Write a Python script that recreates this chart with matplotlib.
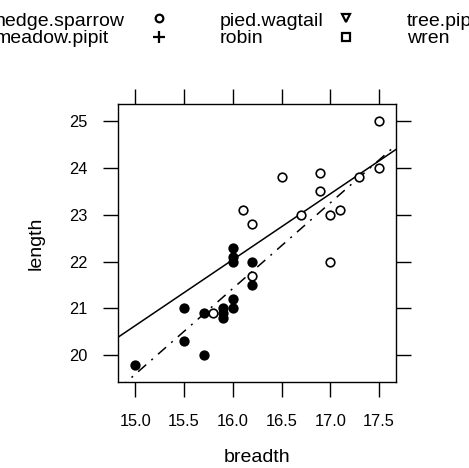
import numpy as np
from matplotlib import pyplot as plt
from matplotlib.lines import Line2D

plt.rcParams['font.family'] = ['Liberation Sans', 'DejaVu Sans']

# eggs of cuckoos laid in hedge sparrow and wren nests
hedge_breadth = [15.8, 16.2, 16.1, 16.2, 16.5, 16.7, 16.9, 16.9, 17.0, 17.0,
                 17.1, 17.3, 17.5, 17.5]
hedge_length = [20.9, 21.7, 23.1, 22.8, 23.8, 23.0, 23.9, 23.5, 23.0, 22.0,
                23.1, 23.8, 25.0, 24.0]
wren_breadth = [15.0, 15.5, 15.5, 15.7, 15.7, 15.9, 15.9, 15.9, 16.0, 16.0,
                16.0, 16.0, 16.0, 16.2, 16.2]
wren_length = [19.8, 21.0, 20.3, 20.9, 20.0, 21.0, 20.9, 20.8, 21.2, 21.0,
               22.3, 22.1, 22.0, 22.0, 21.5]

key_labels = [['hedge.sparrow', 'meadow.pipit'],
              ['pied.wagtail', 'robin'],
              ['tree.pipit', 'wren']]
key_markers = [['o', '+'], ['v', 's'], ['D', 'o']]

x_ticks = [15.0, 15.5, 16.0, 16.5, 17.0, 17.5]
y_ticks = [20, 21, 22, 23, 24, 25]

W, H = 469, 468
fig = plt.figure(figsize=(W / 100, H / 100), dpi=100)
ax = fig.add_axes([118.3 / W, 1 - 381.7 / H, (396 - 118.3) / W,
                   (381.7 - 104) / H])

all_x = np.array(hedge_breadth + wren_breadth)
all_y = np.array(hedge_length + wren_length)
xr = all_x.max() - all_x.min()
yr = all_y.max() - all_y.min()
xlim = (all_x.min() - 0.07 * xr, all_x.max() + 0.07 * xr)
ylim = (all_y.min() - 0.07 * yr, all_y.max() + 0.07 * yr)

ax.plot(hedge_breadth, hedge_length, 'o', mfc='white', mec='black',
        ms=6.2, mew=1.2, zorder=3)
ax.plot(wren_breadth, wren_length, 'o', mfc='black', mec='black',
        ms=6.2, mew=1.2, zorder=3)

xs = np.array(xlim)
b1 = np.polyfit(hedge_breadth, hedge_length, 1)
b2 = np.polyfit(wren_breadth, wren_length, 1)
ax.plot(xs, np.polyval(b1, xs), c='black', lw=1.1, zorder=2)
ax.plot(xs, np.polyval(b2, xs), c='black', lw=1.1,
        ls=(0, (7, 4.5, 1.3, 4.5)), zorder=2)

ax.set_xlim(xlim)
ax.set_ylim(ylim)
ax.set_xticks(x_ticks)
ax.set_xticklabels(['%.1f' % t for t in x_ticks])
ax.set_yticks(y_ticks)
ax.set_yticklabels([str(t) for t in y_ticks])
ax.tick_params(direction='out', length=11, width=1.0, labelsize=11.8,
               top=True, right=True)
ax.tick_params(axis='x', pad=12)
ax.tick_params(axis='y', pad=11)
for s in ax.spines.values():
    s.set_linewidth(1.0)
ax.set_xlabel('breadth', fontsize=14, labelpad=15)
ax.set_ylabel('length', fontsize=14, labelpad=18)

# key across the top (lattice style, runs off the page)
text_x = [-5, 220, 407]
sym_x = [159.3, 345.7, 532]
base_y = [25.5, 43]
sym_y = [17.5, 37]
for c in range(3):
    for r in range(2):
        fig.text(text_x[c] / W, 1 - base_y[r] / H, key_labels[c][r],
                 fontsize=14, ha='left', va='baseline')
        m = key_markers[c][r]
        fig.add_artist(Line2D([sym_x[c] / W], [1 - sym_y[r] / H],
                              transform=fig.transFigure, marker=m,
                              ms=5.5 if m != '+' else 9, mfc='none',
                              mec='black', mew=1.6, ls='none'))

fig.savefig('out.png', dpi=100)
